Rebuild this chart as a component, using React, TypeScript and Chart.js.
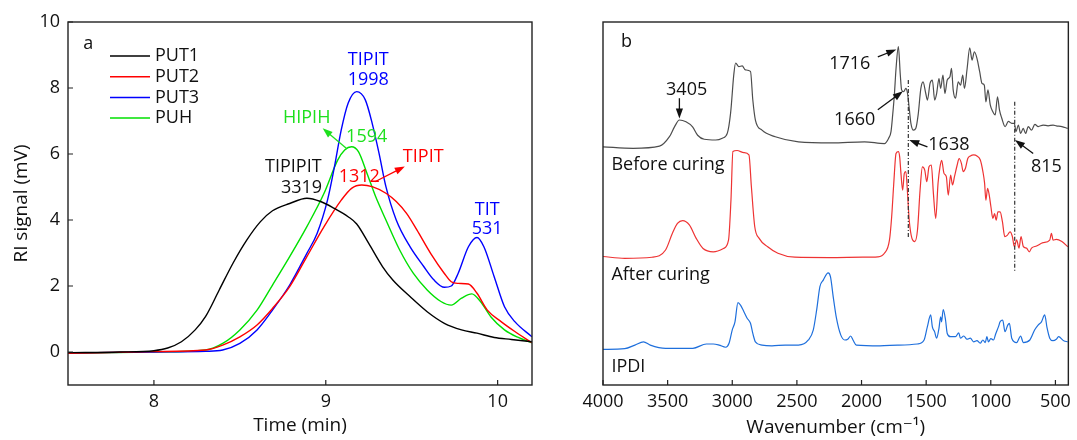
import React, { useEffect, useRef } from "react";
import { Chart, registerables } from "chart.js";

Chart.register(...registerables);

const FONT = "'Open Sans', 'DejaVu Sans', sans-serif";
const FONT_SIZE = 18;
const TITLE_SIZE = 19;

// ---------- Panel a: GPC traces ----------
const timeTicks = [8, 9, 10];
const signalTicks = [0, 2, 4, 6, 8, 10];

const put1Time = [7.5, 7.8, 8.0, 8.08, 8.16, 8.24, 8.3, 8.38, 8.46, 8.54, 8.62, 8.69, 8.79, 8.89, 8.97, 9.05, 9.13, 9.18, 9.25, 9.33, 9.39, 9.49, 9.59, 9.69, 9.79, 9.88, 9.98, 10.08, 10.2];
const put1Signal = [-0.02, 0.0, 0.04, 0.12, 0.31, 0.67, 1.07, 1.88, 2.69, 3.39, 3.95, 4.28, 4.5, 4.66, 4.56, 4.35, 4.1, 3.88, 3.29, 2.59, 2.18, 1.68, 1.22, 0.87, 0.67, 0.57, 0.44, 0.38, 0.31];

const put2Time = [7.5, 8.0, 8.3, 8.4, 8.5, 8.6, 8.69, 8.79, 8.89, 8.99, 9.09, 9.15, 9.21, 9.27, 9.35, 9.41, 9.47, 9.53, 9.61, 9.69, 9.73, 9.77, 9.83, 9.88, 9.94, 10.02, 10.1, 10.2];
const put2Signal = [-0.04, 0.01, 0.06, 0.21, 0.46, 0.82, 1.32, 1.98, 2.89, 3.8, 4.6, 4.96, 5.06, 5.01, 4.81, 4.56, 4.2, 3.7, 2.99, 2.38, 2.13, 2.08, 2.06, 1.78, 1.27, 0.92, 0.62, 0.28];

const put3Time = [7.5, 8.0, 8.3, 8.4, 8.5, 8.6, 8.69, 8.79, 8.89, 8.95, 9.01, 9.05, 9.09, 9.13, 9.18, 9.23, 9.27, 9.31, 9.35, 9.41, 9.49, 9.57, 9.63, 9.69, 9.73, 9.77, 9.83, 9.88, 9.92, 9.98, 10.04, 10.1, 10.2];
const put3Signal = [-0.03, 0.0, 0.02, 0.06, 0.26, 0.67, 1.27, 2.03, 2.99, 3.6, 4.6, 5.6, 6.73, 7.54, 7.89, 7.64, 6.93, 6.02, 5.01, 4.0, 3.19, 2.59, 2.18, 1.96, 2.0, 2.38, 3.19, 3.47, 3.19, 2.28, 1.37, 0.92, 0.46];

const puhTime = [7.5, 8.0, 8.3, 8.4, 8.5, 8.6, 8.69, 8.79, 8.89, 8.99, 9.07, 9.11, 9.15, 9.19, 9.24, 9.29, 9.35, 9.43, 9.51, 9.59, 9.67, 9.73, 9.79, 9.85, 9.9, 9.96, 10.04, 10.12, 10.2];
const puhSignal = [-0.04, 0.0, 0.06, 0.26, 0.67, 1.27, 2.03, 2.89, 3.8, 4.81, 5.82, 6.12, 6.22, 6.07, 5.41, 4.71, 4.0, 3.09, 2.38, 1.88, 1.53, 1.42, 1.63, 1.76, 1.53, 1.07, 0.67, 0.44, 0.28];

// ---------- Panel b: FTIR spectra (offset intensities) ----------
const wavenumberTicks = [4000, 3500, 3000, 2500, 2000, 1500, 1000, 500];

const beforeWavenumber = [4000, 3767, 3563, 3486, 3447, 3409, 3358, 3307, 3268, 3217, 3128, 3077, 3038, 3013, 2987, 2974, 2949, 2923, 2898, 2859, 2841, 2821, 2770, 2667, 2488, 2232, 1977, 1823, 1790, 1772, 1759, 1746, 1733, 1715, 1700, 1690, 1674, 1657, 1644, 1631, 1618, 1598, 1580, 1562, 1541, 1524, 1503, 1490, 1470, 1452, 1434, 1419, 1401, 1388, 1370, 1355, 1337, 1316, 1304, 1291, 1273, 1252, 1234, 1217, 1204, 1183, 1163, 1145, 1127, 1107, 1086, 1068, 1050, 1038, 1022, 1004, 986, 966, 948, 933, 915, 889, 864, 838, 818, 805, 787, 769, 749, 731, 710, 685, 659, 633, 595, 557, 518, 493, 450, 405];
const beforeIntensity = [65.6, 65.2, 65.8, 68.4, 71.1, 73.0, 72.5, 71.1, 68.8, 67.7, 67.5, 68.0, 69.4, 74.9, 85.9, 88.7, 87.7, 87.9, 86.8, 86.4, 78.5, 73.0, 70.2, 68.4, 67.0, 66.7, 67.0, 66.5, 68.0, 69.8, 74.4, 79.9, 87.2, 93.2, 85.4, 81.3, 80.8, 81.7, 80.3, 76.2, 72.1, 70.2, 70.7, 74.4, 81.7, 83.5, 80.3, 78.5, 83.1, 84.0, 78.5, 80.3, 84.4, 81.7, 85.4, 80.3, 84.0, 84.9, 87.2, 81.3, 79.0, 83.5, 82.6, 85.4, 81.7, 87.2, 92.9, 89.5, 91.8, 90.0, 86.3, 83.1, 82.6, 78.0, 81.3, 77.2, 75.4, 74.4, 79.4, 75.8, 73.5, 71.2, 72.6, 72.1, 72.1, 69.8, 71.6, 69.3, 70.7, 69.3, 71.2, 70.2, 71.8, 71.2, 71.6, 71.4, 71.6, 71.4, 71.2, 70.7];

const afterWavenumber = [4000, 3832, 3621, 3516, 3463, 3424, 3384, 3332, 3279, 3226, 3147, 3068, 3029, 3010, 2995, 2963, 2910, 2871, 2852, 2826, 2792, 2726, 2647, 2516, 2252, 1989, 1874, 1823, 1784, 1767, 1751, 1733, 1715, 1705, 1695, 1682, 1669, 1657, 1644, 1631, 1610, 1588, 1567, 1547, 1529, 1511, 1495, 1478, 1460, 1444, 1426, 1408, 1393, 1380, 1362, 1344, 1329, 1311, 1296, 1281, 1260, 1245, 1227, 1214, 1196, 1178, 1158, 1132, 1107, 1081, 1061, 1048, 1038, 1025, 1012, 999, 984, 971, 958, 945, 928, 910, 892, 871, 851, 833, 818, 800, 782, 766, 748, 723, 702, 685, 646, 595, 544, 531, 518, 493, 450, 405];
const afterIntensity = [35.4, 34.9, 35.2, 37.2, 41.8, 44.5, 45.3, 44.1, 40.4, 37.6, 36.7, 37.6, 39.9, 51.0, 64.3, 64.6, 64.0, 63.4, 54.6, 43.6, 40.4, 38.1, 36.3, 35.2, 35.1, 35.2, 35.3, 36.3, 39.9, 46.3, 55.3, 63.8, 64.3, 62.9, 58.3, 53.7, 58.3, 58.8, 52.8, 45.4, 40.4, 39.5, 42.7, 53.7, 60.1, 59.2, 56.0, 60.1, 60.6, 52.8, 45.9, 55.6, 60.1, 61.9, 58.3, 57.4, 52.3, 57.8, 55.1, 57.4, 60.6, 62.4, 61.0, 58.8, 59.7, 62.4, 63.1, 63.4, 63.1, 62.0, 58.8, 55.6, 50.9, 54.2, 52.3, 49.1, 45.9, 47.2, 45.4, 47.7, 47.7, 45.0, 40.9, 41.3, 42.2, 40.9, 38.1, 40.0, 37.7, 40.9, 38.1, 37.7, 36.7, 37.7, 38.3, 39.2, 39.9, 41.8, 39.9, 40.1, 39.5, 38.1];

const ipdiWavenumber = [4000, 3832, 3753, 3687, 3634, 3516, 3305, 3200, 3147, 3102, 3051, 3025, 3000, 2979, 2956, 2936, 2910, 2885, 2859, 2841, 2821, 2769, 2693, 2590, 2488, 2411, 2373, 2347, 2322, 2296, 2258, 2240, 2219, 2194, 2161, 2130, 2104, 2084, 2066, 2040, 1858, 1721, 1568, 1516, 1491, 1465, 1452, 1435, 1419, 1401, 1388, 1381, 1368, 1350, 1337, 1312, 1273, 1248, 1235, 1209, 1184, 1158, 1133, 1107, 1082, 1061, 1043, 1030, 1018, 1000, 979, 961, 941, 928, 908, 890, 869, 856, 838, 800, 769, 749, 698, 660, 634, 608, 583, 565, 544, 519, 493, 476, 436, 405];
const ipdiIntensity = [9.8, 10.0, 11.0, 11.9, 11.0, 10.1, 10.1, 11.3, 11.3, 11.0, 10.4, 11.5, 15.2, 17.4, 22.7, 22.0, 20.2, 18.4, 17.0, 14.2, 11.9, 11.0, 10.8, 11.0, 11.0, 12.4, 15.2, 20.7, 27.1, 28.9, 30.9, 29.8, 24.3, 18.4, 13.8, 12.4, 12.7, 13.5, 12.4, 11.0, 10.8, 11.0, 11.3, 12.4, 16.0, 19.3, 16.0, 14.7, 12.9, 15.6, 18.8, 17.4, 20.8, 17.9, 14.2, 13.3, 13.3, 14.4, 12.9, 13.5, 12.6, 12.9, 11.9, 12.2, 11.5, 12.4, 11.7, 13.3, 11.9, 12.8, 12.4, 14.2, 16.0, 17.4, 17.9, 14.7, 16.5, 17.0, 12.9, 11.7, 13.5, 11.7, 12.4, 15.2, 16.5, 17.4, 19.3, 15.8, 12.9, 12.2, 12.6, 13.3, 12.2, 11.9];

// ---------- Annotations (in data coordinates) ----------
type Label = { x: number; y: number; text: string; color: string; align?: CanvasTextAlign };
type Arrow = { x1: number; y1: number; x2: number; y2: number; color: string };
type Dash = { x: number; y1: number; y2: number };

const labelsA: Label[] = [
  { x: 7.618, y: 9.35, text: "a", color: "#111" },
  { x: 8.811, y: 5.62, text: "TIPIPIT", color: "#111" },
  { x: 8.859, y: 4.96, text: "3319", color: "#111" },
  { x: 9.247, y: 8.85, text: "TIPIT", color: "#0000ff" },
  { x: 9.247, y: 8.24, text: "1998", color: "#0000ff" },
  { x: 8.889, y: 7.08, text: "HIPIH", color: "#1ee01e" },
  { x: 9.238, y: 6.51, text: "1594", color: "#1ee01e" },
  { x: 9.567, y: 5.92, text: "TIPIT", color: "#ff0000" },
  { x: 9.195, y: 5.31, text: "1312", color: "#ff0000" },
  { x: 9.939, y: 4.3, text: "TIT", color: "#0000ff" },
  { x: 9.939, y: 3.72, text: "531", color: "#0000ff" },
];
const arrowsA: Arrow[] = [
  { x1: 9.121, y1: 6.17, x2: 8.982, y2: 6.78, color: "#1ee01e" },
  { x1: 9.286, y1: 5.16, x2: 9.46, y2: 5.62, color: "#ff0000" },
];

const labelsB: Label[] = [
  { x: 3818, y: 94.6, text: "b", color: "#111" },
  { x: 3353, y: 81.3, text: "3405", color: "#111" },
  { x: 2091, y: 88.6, text: "1716", color: "#111" },
  { x: 2053, y: 73.0, text: "1660", color: "#111" },
  { x: 1324, y: 66.1, text: "1638", color: "#111" },
  { x: 570, y: 60.1, text: "815", color: "#111" },
  { x: 3935, y: 60.6, text: "Before curing", color: "#111", align: "left" },
  { x: 3935, y: 30.3, text: "After curing", color: "#111", align: "left" },
  { x: 3935, y: 5.0, text: "IPDI", color: "#111", align: "left" },
];
const arrowsB: Arrow[] = [
  { x1: 3409, y1: 79.0, x2: 3409, y2: 73.4, color: "#111" },
  { x1: 1874, y1: 90.4, x2: 1731, y2: 92.4, color: "#111" },
  { x1: 1874, y1: 75.8, x2: 1680, y2: 80.9, color: "#111" },
  { x1: 1490, y1: 65.6, x2: 1631, y2: 67.5, color: "#111" },
  { x1: 672, y1: 63.8, x2: 813, y2: 67.5, color: "#111" },
];
const dashesB: Dash[] = [
  { x: 1638, y1: 84.0, y2: 40.4 },
  { x: 815, y1: 78.0, y2: 31.2 },
];

const legendA = [
  { text: "PUT1", color: "#000000" },
  { text: "PUT2", color: "#ff0000" },
  { text: "PUT3", color: "#0000ff" },
  { text: "PUH", color: "#00e000" },
];

function toPoints(xs: number[], ys: number[]) {
  return xs.map((x, i) => ({ x, y: ys[i] }));
}

function drawArrow(ctx: CanvasRenderingContext2D, x1: number, y1: number, x2: number, y2: number, color: string) {
  const ang = Math.atan2(y2 - y1, x2 - x1);
  const len = 10;
  const half = 3.6;
  ctx.save();
  ctx.strokeStyle = color;
  ctx.fillStyle = color;
  ctx.lineWidth = 1.3;
  ctx.beginPath();
  ctx.moveTo(x1, y1);
  ctx.lineTo(x2 - Math.cos(ang) * len * 0.8, y2 - Math.sin(ang) * len * 0.8);
  ctx.stroke();
  ctx.beginPath();
  ctx.moveTo(x2, y2);
  ctx.lineTo(x2 - Math.cos(ang) * len - Math.sin(ang) * half, y2 - Math.sin(ang) * len + Math.cos(ang) * half);
  ctx.lineTo(x2 - Math.cos(ang) * len + Math.sin(ang) * half, y2 - Math.sin(ang) * len - Math.cos(ang) * half);
  ctx.closePath();
  ctx.fill();
  ctx.restore();
}

function makeOverlay(cfg: {
  xTicks: number[];
  yTicks?: number[];
  labels: Label[];
  arrows: Arrow[];
  dashes?: Dash[];
  legend?: { text: string; color: string }[];
}) {
  return {
    id: "overlay",
    afterDatasetsDraw(chart: any) {
      const ctx: CanvasRenderingContext2D = chart.ctx;
      const { left, right, top, bottom } = chart.chartArea;
      const xs = chart.scales.x;
      const ys = chart.scales.y;
      ctx.save();
      ctx.strokeStyle = "#222";
      ctx.lineWidth = 1.4;
      ctx.strokeRect(left, top, right - left, bottom - top);
      ctx.lineWidth = 1.2;
      ctx.beginPath();
      for (const t of cfg.xTicks) {
        const px = xs.getPixelForValue(t);
        ctx.moveTo(px, bottom);
        ctx.lineTo(px, bottom - 5);
      }
      if (cfg.yTicks) {
        for (const t of cfg.yTicks) {
          const py = ys.getPixelForValue(t);
          ctx.moveTo(left, py);
          ctx.lineTo(left + 5, py);
        }
      }
      ctx.stroke();
      if (cfg.dashes) {
        ctx.strokeStyle = "#333";
        ctx.lineWidth = 1.2;
        ctx.setLineDash([4, 2, 1, 2]);
        for (const d of cfg.dashes) {
          const px = xs.getPixelForValue(d.x);
          ctx.beginPath();
          ctx.moveTo(px, ys.getPixelForValue(d.y1));
          ctx.lineTo(px, ys.getPixelForValue(d.y2));
          ctx.stroke();
        }
        ctx.setLineDash([]);
      }
      ctx.font = `${FONT_SIZE}px ${FONT}`;
      ctx.textBaseline = "middle";
      for (const l of cfg.labels) {
        ctx.fillStyle = l.color;
        ctx.textAlign = l.align || "center";
        ctx.fillText(l.text, xs.getPixelForValue(l.x), ys.getPixelForValue(l.y));
      }
      for (const a of cfg.arrows) {
        drawArrow(
          ctx,
          xs.getPixelForValue(a.x1),
          ys.getPixelForValue(a.y1),
          xs.getPixelForValue(a.x2),
          ys.getPixelForValue(a.y2),
          a.color
        );
      }
      if (cfg.legend) {
        cfg.legend.forEach((item, i) => {
          const y = top + 34 + i * 20.7;
          ctx.strokeStyle = item.color;
          ctx.lineWidth = 1.5;
          ctx.beginPath();
          ctx.moveTo(left + 42, y);
          ctx.lineTo(left + 82, y);
          ctx.stroke();
          ctx.fillStyle = "#111";
          ctx.textAlign = "left";
          ctx.fillText(item.text, left + 87, y);
        });
      }
      ctx.restore();
    },
  };
}

const tickFont = { family: FONT, size: FONT_SIZE };
const titleFont = { family: FONT, size: TITLE_SIZE };
const plainTick = (v: any) => String(v);

function lineDs(label: string, xs: number[], ys: number[], color: string, width: number) {
  return {
    label,
    data: toPoints(xs, ys),
    borderColor: color,
    backgroundColor: color,
    borderWidth: width,
    pointRadius: 0,
    fill: false,
    tension: 0.4,
    cubicInterpolationMode: "monotone" as const,
  };
}

export default function App() {
  const refA = useRef<HTMLCanvasElement | null>(null);
  const refB = useRef<HTMLCanvasElement | null>(null);

  useEffect(() => {
    const chartA = new Chart(refA.current as HTMLCanvasElement, {
      type: "line",
      data: {
        datasets: [
          lineDs("PUT1", put1Time, put1Signal, "#000000", 1.4),
          lineDs("PUT2", put2Time, put2Signal, "#ff0000", 1.4),
          lineDs("PUT3", put3Time, put3Signal, "#0000ff", 1.4),
          lineDs("PUH", puhTime, puhSignal, "#00e000", 1.4),
        ],
      },
      options: {
        responsive: false,
        animation: false,
        devicePixelRatio: 1,
        layout: { padding: { left: 0, right: 28, top: 22, bottom: 0 } },
        plugins: { legend: { display: false }, tooltip: { enabled: false } },
        scales: {
          x: {
            type: "linear",
            min: 7.5,
            max: 10.2,
            afterBuildTicks: (s: any) => {
              s.ticks = timeTicks.map((v) => ({ value: v }));
            },
            afterFit: (s: any) => {
              s.height = 55;
            },
            grid: { display: false, drawTicks: false },
            border: { display: false },
            ticks: { font: tickFont, color: "#111", padding: 6, maxRotation: 0, autoSkip: false, callback: plainTick },
            title: { display: true, text: "Time (min)", font: titleFont, color: "#111", padding: { top: 0, bottom: 3 } },
          },
          y: {
            type: "linear",
            min: -1,
            max: 10,
            afterBuildTicks: (s: any) => {
              s.ticks = signalTicks.map((v) => ({ value: v }));
            },
            afterFit: (s: any) => {
              s.width = 68;
            },
            grid: { display: false, drawTicks: false },
            border: { display: false },
            ticks: { font: tickFont, color: "#111", padding: 8, autoSkip: false, callback: plainTick },
            title: { display: true, text: "RI signal (mV)", font: titleFont, color: "#111", padding: { top: 10, bottom: 0 } },
          },
        },
      },
      plugins: [makeOverlay({ xTicks: timeTicks, yTicks: signalTicks, labels: labelsA, arrows: arrowsA, legend: legendA })],
    } as any);

    const chartB = new Chart(refB.current as HTMLCanvasElement, {
      type: "line",
      data: {
        datasets: [
          lineDs("Before curing", beforeWavenumber, beforeIntensity, "#4d4d4d", 1.2),
          lineDs("After curing", afterWavenumber, afterIntensity, "#ee3333", 1.2),
          lineDs("IPDI", ipdiWavenumber, ipdiIntensity, "#1e6fdc", 1.2),
        ],
      },
      options: {
        responsive: false,
        animation: false,
        devicePixelRatio: 1,
        layout: { padding: { left: 43, right: 5, top: 22, bottom: 0 } },
        plugins: { legend: { display: false }, tooltip: { enabled: false } },
        scales: {
          x: {
            type: "linear",
            reverse: true,
            min: 400,
            max: 4000,
            afterBuildTicks: (s: any) => {
              s.ticks = wavenumberTicks.map((v) => ({ value: v }));
            },
            afterFit: (s: any) => {
              s.height = 55;
            },
            grid: { display: false, drawTicks: false },
            border: { display: false },
            ticks: { font: tickFont, color: "#111", padding: 6, maxRotation: 0, autoSkip: false, callback: plainTick },
            title: { display: true, text: "Wavenumber (cm\u207B\u00B9)", font: titleFont, color: "#111", padding: { top: 0, bottom: 1 } },
          },
          y: {
            type: "linear",
            display: false,
            min: 0,
            max: 100,
          },
        },
      },
      plugins: [makeOverlay({ xTicks: wavenumberTicks, labels: labelsB, arrows: arrowsB, dashes: dashesB })],
    } as any);

    return () => {
      chartA.destroy();
      chartB.destroy();
    };
  }, []);

  return (
    <div style={{ position: "absolute", left: 0, top: 0, width: 1077, height: 440, background: "#fff" }}>
      <canvas ref={refA} width={560} height={440} style={{ position: "absolute", left: 0, top: 0, width: 560, height: 440 }} />
      <canvas ref={refB} width={517} height={440} style={{ position: "absolute", left: 560, top: 0, width: 517, height: 440 }} />
    </div>
  );
}
